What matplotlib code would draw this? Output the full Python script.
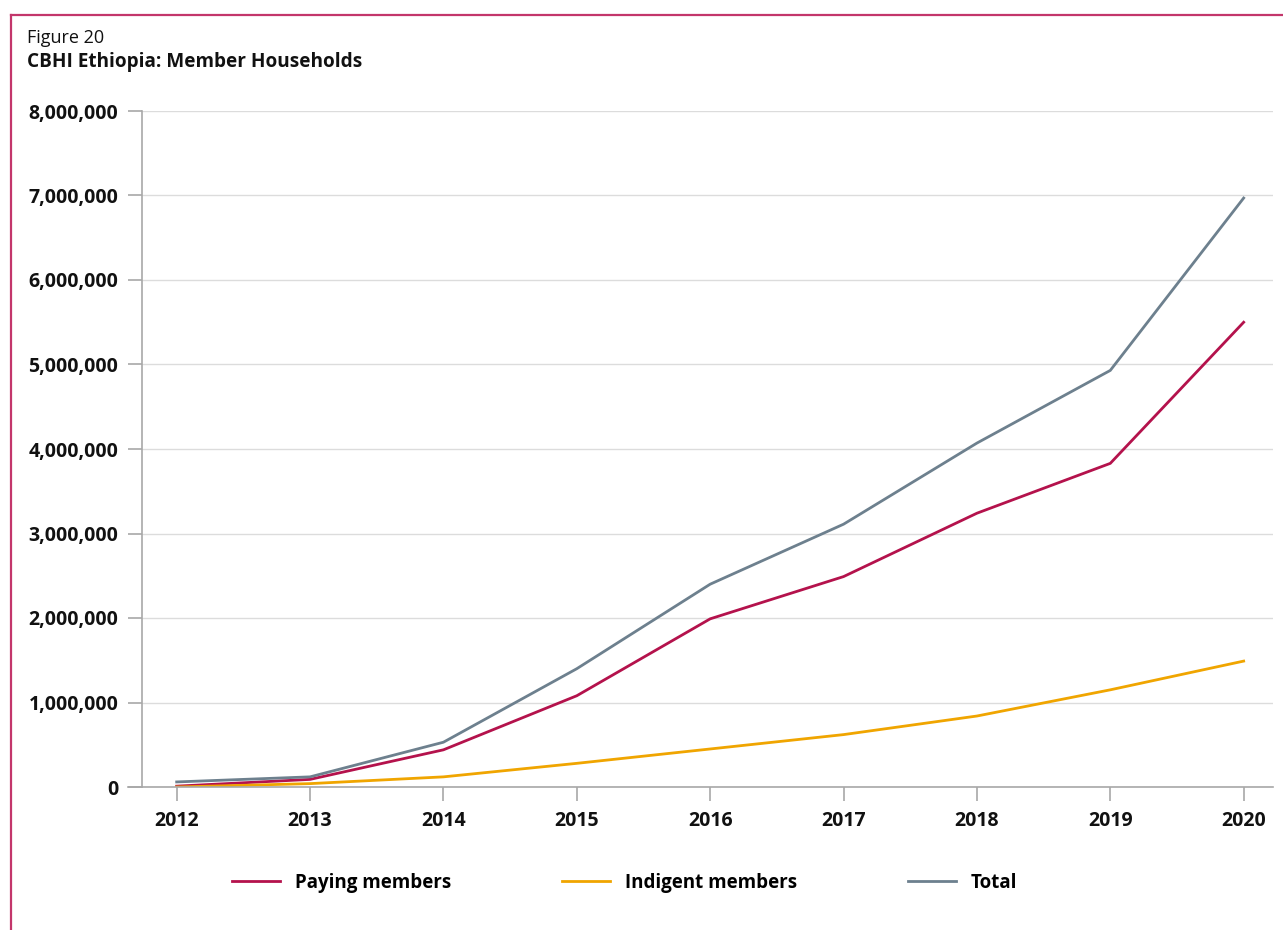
import matplotlib
matplotlib.use("Agg")
import matplotlib.pyplot as plt
from matplotlib.lines import Line2D
from matplotlib.ticker import FuncFormatter

plt.rcParams['font.family'] = ['Open Sans', 'DejaVu Sans']

years = [2012, 2013, 2014, 2015, 2016, 2017, 2018, 2019, 2020]
paying = [10000, 90000, 440000, 1080000, 1990000, 2490000, 3240000, 3830000, 5500000]
indigent = [0, 40000, 120000, 280000, 450000, 620000, 840000, 1150000, 1490000]
total = [60000, 120000, 530000, 1400000, 2400000, 3110000, 4070000, 4930000, 6970000]

series_names = ["Paying members", "Indigent members", "Total"]
series_colors = ["#B4124C", "#F0A500", "#6D808E"]

fig = plt.figure(figsize=(12.83, 9.30), dpi=100)
ax = fig.add_axes([142 / 1283, 143 / 930, (1273 - 142) / 1283, 676 / 930])

for vals, name, col in zip([paying, indigent, total], series_names, series_colors):
    ax.plot(years, vals, color=col, lw=2.0, label=name, solid_joinstyle='miter')

ax.set_xlim(2011.74, 2020.22)
ax.set_ylim(0, 8000000)
ax.set_xticks(years)
ax.set_xticklabels([str(y) for y in years])
ax.set_yticks(range(0, 8000001, 1000000))
ax.yaxis.set_major_formatter(FuncFormatter(lambda v, p: f"{int(v):,}"))
ax.grid(axis='y', color='#DCDCDC', lw=1.0)
ax.set_axisbelow(True)

for s in ['top', 'right']:
    ax.spines[s].set_visible(False)
for s in ['left', 'bottom']:
    ax.spines[s].set_color('#A8A8A8')
    ax.spines[s].set_linewidth(1.2)

ax.tick_params(axis='both', colors='#A8A8A8', labelcolor='#111111', width=1.2,
               length=10, labelsize=14)
ax.tick_params(axis='y', pad=7)
ax.tick_params(axis='x', pad=7)
for lab in ax.get_xticklabels() + ax.get_yticklabels():
    lab.set_fontweight('bold')

# Extend the baseline slightly to the left like the tick stubs
ax.plot([2011.74 - 14 / 133.4, 2011.74], [0, 0], color='#A8A8A8', lw=1.2,
        clip_on=False, zorder=1)

handles = [Line2D([], [], color=c, lw=2.0) for c in series_colors]
leg = fig.legend(handles, series_names, loc='center', ncol=3,
                 bbox_to_anchor=(0.487, 1 - 883 / 930), frameon=False,
                 prop={'size': 13.5, 'weight': 'bold'}, handlelength=2.56,
                 handletextpad=0.8, columnspacing=5.9)

fig.text(27 / 1283, 1 - 38 / 930, "Figure 20", fontsize=13, va='center',
         ha='left', color='#111111')
fig.text(27 / 1283, 1 - 62 / 930, "CBHI Ethiopia: Member Households",
         fontsize=13.7, fontweight='bold', va='center', ha='left', color='#111111')

# Page frame: top and left rules
frame_col = '#C3366B'
fig.add_artist(Line2D([11 / 1283, 1.0], [1 - 15 / 930, 1 - 15 / 930],
                      color=frame_col, lw=1.6, transform=fig.transFigure))
fig.add_artist(Line2D([11 / 1283, 11 / 1283], [0.0, 1 - 15 / 930],
                      color=frame_col, lw=1.6, transform=fig.transFigure))

fig.savefig("out.png", dpi=100)
